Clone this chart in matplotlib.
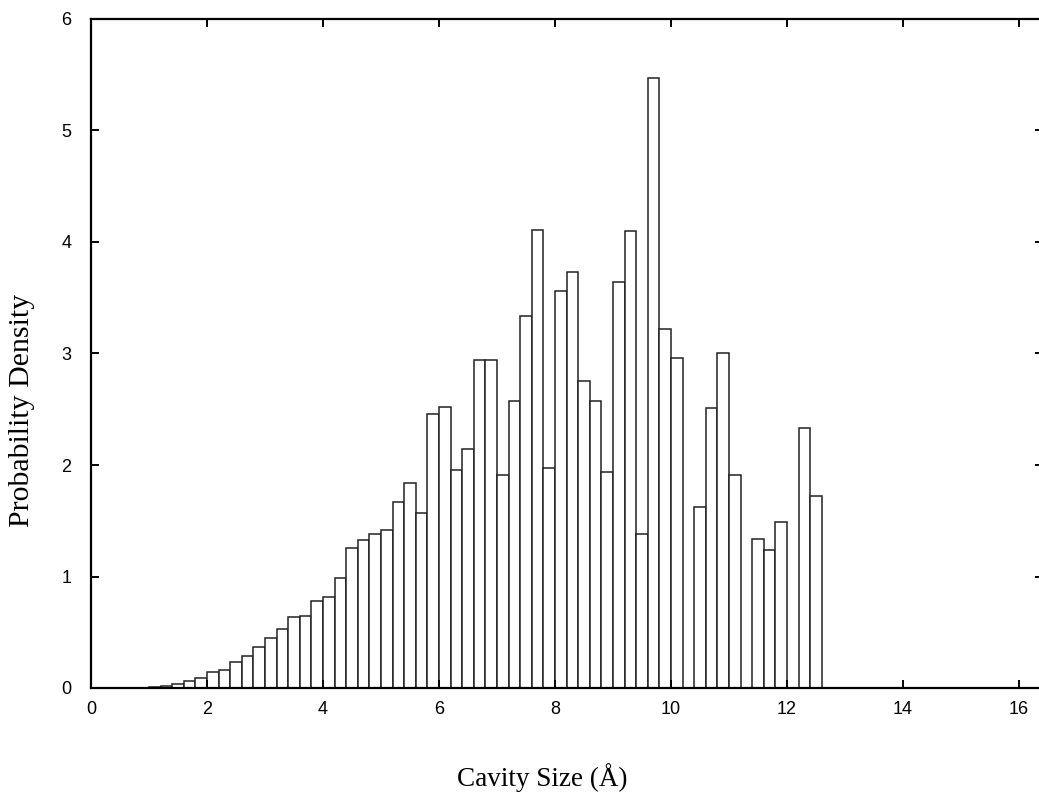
import matplotlib.pyplot as plt
import numpy as np

# histogram bins: width 0.2, first bin starts at 1.0
bin_start = 1.0
bin_width = 0.2
density = [0.01, 0.02, 0.04, 0.06, 0.09, 0.14, 0.16, 0.23, 0.29, 0.365,
           0.45, 0.53, 0.635, 0.65, 0.78, 0.82, 0.985, 1.255, 1.325, 1.38,
           1.42, 1.67, 1.84, 1.57, 2.46, 2.52, 1.955, 2.14, 2.945, 2.945,
           1.91, 2.575, 3.335, 4.11, 1.97, 3.56, 3.735, 2.755, 2.57, 1.94,
           3.645, 4.1, 1.385, 5.47, 3.22, 2.96, 0.0, 1.62, 2.515, 3.0,
           1.91, 0.0, 1.34, 1.24, 1.485, 0.0, 2.33, 1.72]

x_ticks = [0, 2, 4, 6, 8, 10, 12, 14, 16]
y_ticks = [0, 1, 2, 3, 4, 5, 6]

W, H = 1039, 798
fig = plt.figure(figsize=(W / 100, H / 100), dpi=100)
left, right, top, bottom = 91, 1043, 19, 688
ax = fig.add_axes([left / W, (H - bottom) / H, (right - left) / W, (bottom - top) / H])

edges = bin_start + bin_width * np.arange(len(density))
ax.bar(edges, density, width=bin_width, align='edge',
       facecolor='white', edgecolor='#222222', linewidth=1.1)

ax.set_xlim(0, (right - left) / 58.0)
ax.set_ylim(0, 6)
ax.set_xticks(x_ticks)
ax.set_yticks(y_ticks)
for s in ax.spines.values():
    s.set_linewidth(1.6)
ax.tick_params(direction='in', length=6, width=1.4, top=True, right=True,
               labelsize=13)
ax.tick_params(axis='x', pad=9)
ax.tick_params(axis='y', pad=14)
for lab in ax.get_xticklabels() + ax.get_yticklabels():
    lab.set_family('Liberation Sans')

fig.text(542 / W, 1 - 778 / H, 'Cavity Size (Å)', ha='center', va='center',
         family='Liberation Serif', fontsize=19.5)
fig.text(22 / W, 1 - 410 / H, 'Probability Density', ha='center', va='center',
         rotation=90, family='Liberation Serif', fontsize=21.5)

fig.savefig('out.png', dpi=100)
